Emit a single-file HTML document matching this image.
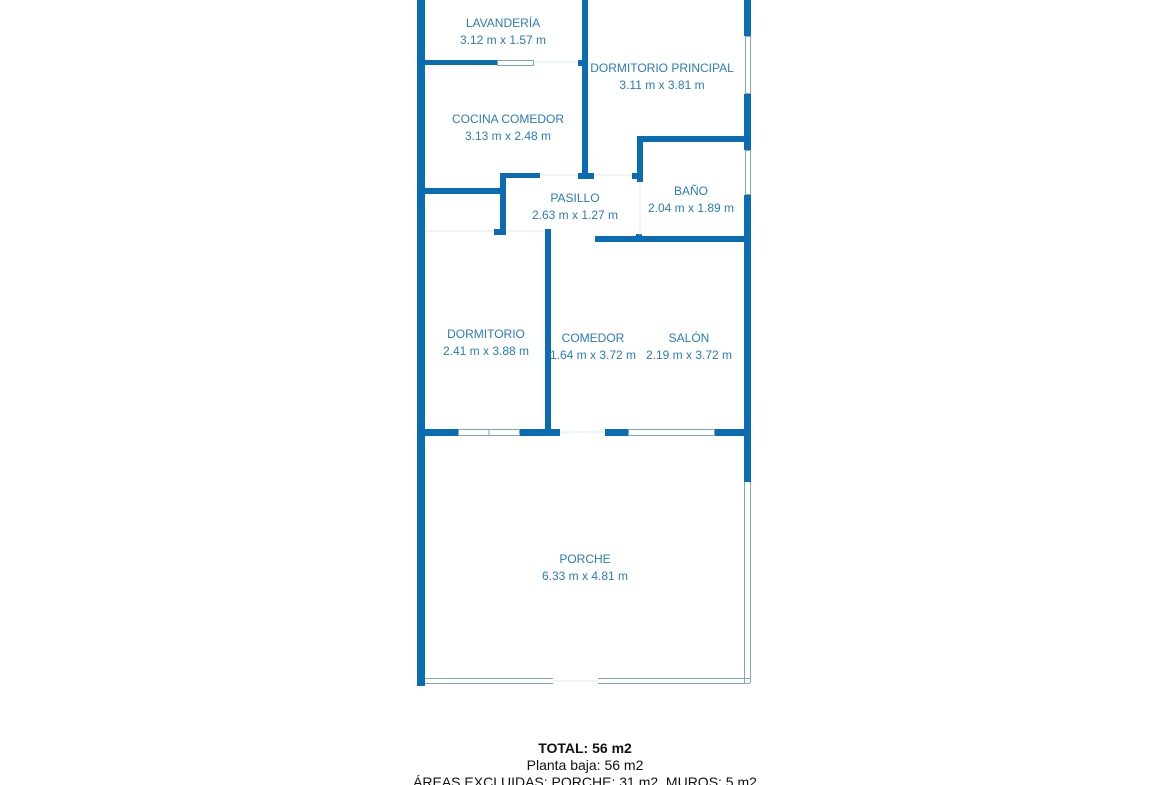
<!DOCTYPE html>
<html><head><style>
html,body{margin:0;padding:0;background:#fff;width:1170px;height:785px;overflow:hidden}
svg{display:block}
text{font-family:"Liberation Sans",sans-serif;font-size:12px;fill:#2a7cbc;text-anchor:middle}
.f{fill:#0a6cb2}
</style></head><body>
<svg width="1170" height="785" viewBox="0 0 1170 785">
<g class="f">
<rect x="417" y="0" width="8" height="686"/>
<rect x="744" y="0" width="7" height="36"/>
<rect x="744" y="94" width="7" height="56"/>
<rect x="744" y="195" width="7" height="287"/>
<rect x="582" y="0" width="6" height="178"/>
<rect x="417" y="60" width="80" height="5"/>
<rect x="578" y="60" width="10" height="6"/>
<rect x="417" y="188" width="86" height="6"/>
<rect x="500" y="173" width="40" height="5"/>
<rect x="578" y="173" width="16" height="6"/>
<rect x="632" y="173" width="8" height="6"/>
<rect x="500" y="173" width="6" height="62"/>
<rect x="494" y="229" width="12" height="6"/>
<rect x="637" y="136" width="114" height="6"/>
<rect x="637" y="136" width="6" height="46"/>
<rect x="595" y="236" width="156" height="6"/>
<rect x="636" y="234" width="6" height="6"/>
<rect x="545" y="229" width="6" height="207"/>
<rect x="417" y="429" width="41" height="7"/>
<rect x="520" y="429" width="40" height="7"/>
<rect x="605" y="429" width="23" height="7"/>
<rect x="715" y="429" width="36" height="7"/>
</g>
<g fill="none" stroke="#7aa6c8" stroke-width="1">
<rect x="745.5" y="36.5" width="5" height="57"/>
<rect x="745.5" y="150.5" width="5" height="44"/>
<rect x="497.5" y="60.5" width="36" height="5"/>
<rect x="458.5" y="429.5" width="61" height="6"/>
<line x1="489" y1="430" x2="489" y2="436"/>
<rect x="628.5" y="429.5" width="86" height="6"/>
<line x1="744.5" y1="482" x2="744.5" y2="683"/>
<line x1="750.5" y1="482" x2="750.5" y2="683"/>
<line x1="425" y1="678.5" x2="553" y2="678.5"/>
<line x1="425" y1="683.5" x2="553" y2="683.5"/>
<line x1="598" y1="678.5" x2="750" y2="678.5"/>
<line x1="598" y1="683.5" x2="750" y2="683.5"/>
</g>
<g stroke="#dde8f0" stroke-width="1">
<line x1="534" y1="62" x2="578" y2="62"/>
<line x1="540" y1="175" x2="578" y2="175"/>
<line x1="594" y1="175" x2="632" y2="175"/>
<line x1="640" y1="182" x2="640" y2="235"/>
<line x1="425" y1="231" x2="494" y2="231"/>
<line x1="506" y1="231" x2="545" y2="231"/>
<line x1="560" y1="432" x2="605" y2="432"/>
<line x1="553" y1="681" x2="598" y2="681"/>
</g>
<text x="503" y="27">LAVANDERÍA</text><text x="503" y="44">3.12 m x 1.57 m</text>
<text x="662" y="72">DORMITORIO PRINCIPAL</text><text x="662" y="89">3.11 m x 3.81 m</text>
<text x="508" y="123">COCINA COMEDOR</text><text x="508" y="140">3.13 m x 2.48 m</text>
<text x="575" y="202">PASILLO</text><text x="575" y="219">2.63 m x 1.27 m</text>
<text x="691" y="195">BAÑO</text><text x="691" y="212">2.04 m x 1.89 m</text>
<text x="486" y="338">DORMITORIO</text><text x="486" y="355">2.41 m x 3.88 m</text>
<text x="593" y="342">COMEDOR</text><text x="593" y="359">1.64 m x 3.72 m</text>
<text x="689" y="342">SALÓN</text><text x="689" y="359">2.19 m x 3.72 m</text>
<text x="585" y="563">PORCHE</text><text x="585" y="580">6.33 m x 4.81 m</text>
<text x="585" y="753" style="font-size:14px;font-weight:bold;fill:#111">TOTAL: 56 m2</text>
<text x="585" y="770" style="font-size:14px;fill:#111">Planta baja: 56 m2</text>
<text x="585" y="787" style="font-size:14px;fill:#111">ÁREAS EXCLUIDAS: PORCHE: 31 m2, MUROS: 5 m2</text>
</svg>
</body></html>
